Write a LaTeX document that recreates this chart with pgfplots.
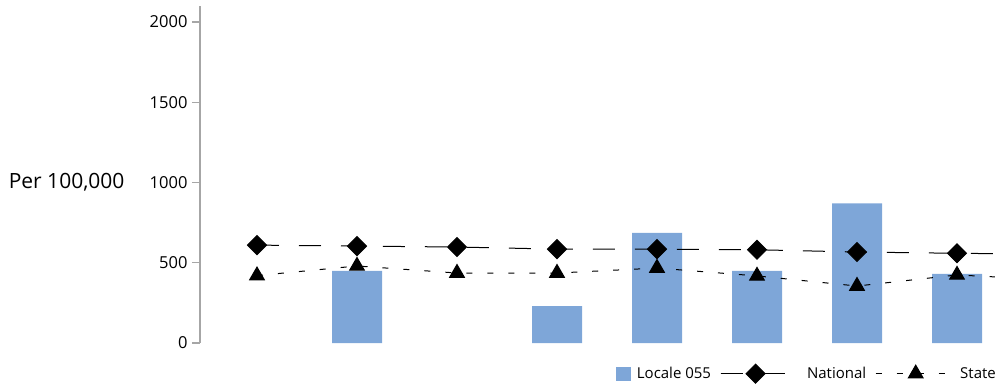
\documentclass[border=0pt]{standalone}
\usepackage{fontspec}
\setmainfont{Open Sans}
\usepackage{pgfplots}
\pgfplotsset{compat=1.18}
\definecolor{barblue}{RGB}{126,166,216}
\definecolor{axgray}{RGB}{166,166,166}
\pgfplotsset{
  natleg/.style={legend image code/.code={\draw[mark repeat=2,mark phase=2,##1] plot coordinates {(0pt,0pt)(35pt,0pt)(68pt,0pt)}; \path (0pt,0pt) -- (80pt,0pt);}},
  stateleg/.style={legend image code/.code={\draw[mark repeat=2,mark phase=2,##1] plot coordinates {(0pt,0pt)(40pt,0pt)(78pt,0pt)};}},
  barleg/.style={legend image code/.code={\fill[barblue] (0pt,-7pt) rectangle (15pt,7pt);}},
}
\begin{document}
\begin{tikzpicture}
\begin{axis}[
  scale only axis, width=795pt, height=337pt,
  xmin=-0.57, xmax=7.38, ymin=0, ymax=2100,
  clip=true,
  axis x line=none, axis y line=left,
  axis line style={axgray, line width=1.2pt, -},
  ytick={0,500,1000,1500,2000},
  xtick=\empty,
  tick align=outside, major tick length=8pt,
  tick style={axgray, line width=1.2pt},
  yticklabel style={font=\fontsize{16.5}{19}\selectfont, text=black, xshift=-1pt},
  /pgf/number format/assume math mode=true,
  /pgf/number format/1000 sep={},
  ylabel={Per 100,000},
  ylabel style={rotate=-90, font=\fontsize{21}{24}\selectfont, at={(rel axis cs:0,0.476)}, anchor=east, xshift=-72pt},
  legend columns=3,
  legend style={draw=none, fill=none, at={(rel axis cs:1,0)}, anchor=north east, yshift=-19pt, xshift=6pt,
    font=\fontsize{15}{18}\selectfont,
    /tikz/every odd column/.append style={column sep=4pt},
    /tikz/every even column/.append style={column sep=7pt}},
]
\coordinate (O) at (rel axis cs:0,0);
\addplot[ybar, bar width=50pt, fill=barblue, draw=none, barleg]
  coordinates {(1,449) (3,230) (4,687) (5,449) (6,870) (7,430)};
\addlegendentry{Locale 055}
\addplot[black, line width=1pt, dash pattern=on 22pt off 20pt,
  mark=square*, mark size=6.7pt, mark options={rotate=45, solid}, natleg]
  coordinates {(0,610) (1,604) (2,598) (3,585) (4,585) (5,581) (6,567) (7,559) (8,553)};
\addlegendentry{National}
\addplot[black, line width=1pt, dash pattern=on 6pt off 15pt,
  mark=triangle*, mark size=8.5pt, mark options={solid}, stateleg]
  coordinates {(0,420) (1,480) (2,436) (3,436) (4,467) (5,418) (6,355) (7,424) (8,392)};
\addlegendentry{State}
\end{axis}
\pgfresetboundingbox
\path[use as bounding box] ([shift={(-200pt,-43pt)}]O) rectangle ([shift={(795pt,343pt)}]O);
\end{tikzpicture}
\end{document}
